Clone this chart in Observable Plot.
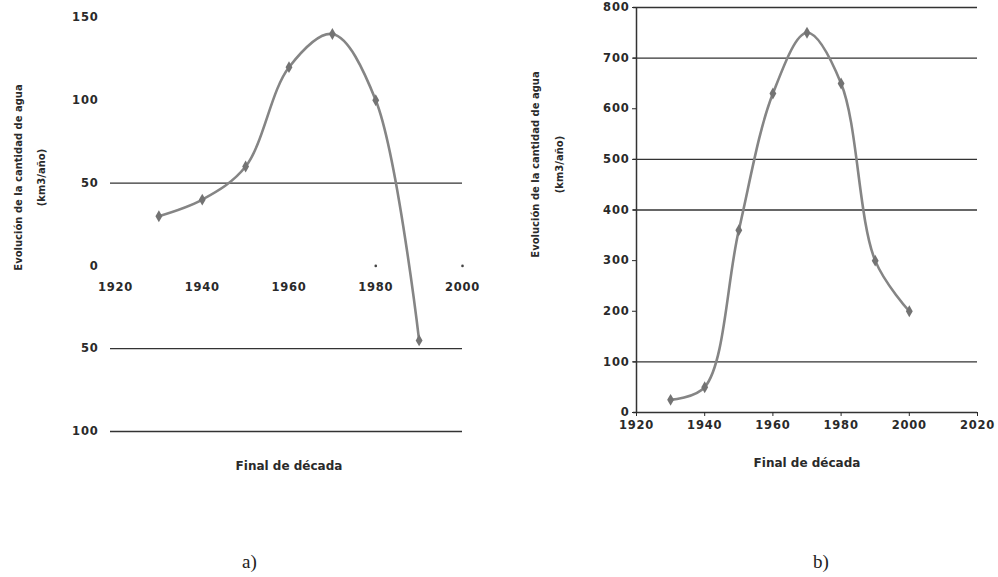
<!DOCTYPE html>
<html>
<head>
<meta charset="utf-8">
<script src="https://cdn.jsdelivr.net/npm/d3@7"></script>
<script src="https://cdn.jsdelivr.net/npm/@observablehq/plot@0.6"></script>
<style>
  html, body { margin: 0; padding: 0; background: #ffffff; }
  #wrap { position: relative; width: 998px; height: 577px; overflow: hidden; background: #ffffff; }
  #chartA { position: absolute; left: 0; top: 0; }
  #chartB { position: absolute; left: 500px; top: 0; }
  .panel { position: absolute; top: 551px; font-family: "Liberation Serif", "Times New Roman", serif; font-size: 19px; color: #222; }
  .tk text { letter-spacing: 0.8px; }
</style>
</head>
<body>
<div id="wrap">
  <div id="chartA"></div>
  <div id="chartB"></div>
  <div class="panel" style="left:242px;">a)</div>
  <div class="panel" style="left:813px;">b)</div>
</div>
<script>
// ---- Data: chart a) ----
const yearsA = [1930, 1940, 1950, 1960, 1970, 1980, 1990];
const valuesA = [30, 40, 60, 120, 140, 100, -45];
const yTicksA = [-100, -50, 0, 50, 100, 150];
const gridA = [-100, -50, 50];
const xTicksA = [1920, 1940, 1960, 1980, 2000];
const tickDotsA = [1980, 2000];

// ---- Data: chart b) ----
const yearsB = [1930, 1940, 1950, 1960, 1970, 1980, 1990, 2000];
const valuesB = [25, 50, 360, 630, 750, 650, 300, 200];
const yTicksB = [0, 100, 200, 300, 400, 500, 600, 700, 800];
const gridB = [100, 400, 500, 700, 800];
const xTicksB = [1920, 1940, 1960, 1980, 2000, 2020];

const yTitle = "Evolución de la cantidad de agua\n(km3/año)";
const xTitle = "Final de década";

const dataA = yearsA.map((y, i) => ({year: y, value: valuesA[i]}));
const dataB = yearsB.map((y, i) => ({year: y, value: valuesB[i]}));

const font = "'DejaVu Sans', Verdana, sans-serif";
const lineColor = "#858585";
const dotColor = "#737373";
const textColor = "#2a2a2a";

const chartA = Plot.plot({
  width: 480, height: 480,
  marginLeft: 115, marginRight: 18, marginTop: 17, marginBottom: 49,
  style: {fontFamily: font, background: "transparent", color: textColor},
  x: {domain: [1920, 2000], axis: null},
  y: {domain: [-100, 150]},
  marks: [
    Plot.ruleY(gridA, {stroke: "#333", strokeWidth: 1.3, insetLeft: -5}),
    Plot.axisY({ticks: yTicksA, tickSize: 0, tickPadding: 17, tickFormat: d => String(Math.abs(d)), fontSize: 11.5, fontWeight: "bold", label: null, className: "tk"}),
    Plot.text(xTicksA, {x: d => d, y: () => 0, dy: 21, text: d => String(d), fontSize: 11.5, fontWeight: "bold", fill: textColor, className: "tk"}),
    Plot.dot(tickDotsA, {x: d => d, y: () => 0, r: 1.3, fill: "#444", stroke: null}),
    Plot.line(dataA, {x: "year", y: "value", curve: "catmull-rom", stroke: lineColor, strokeWidth: 2.6}),
    Plot.dot(dataA, {x: "year", y: "value", symbol: "diamond", r: 3.6, fill: dotColor, stroke: null}),
    Plot.text([yTitle], {frameAnchor: "top-left", dx: -89, dy: 160, rotate: -90, textAnchor: "middle", lineAnchor: "middle", lineHeight: 2.3, fontSize: 10, fontWeight: "bold", fill: textColor, text: d => d}),
    Plot.text([xTitle], {frameAnchor: "bottom", dy: 35, textAnchor: "middle", lineAnchor: "middle", fontSize: 12, fontWeight: "bold", fill: textColor, text: d => d})
  ]
});
document.getElementById("chartA").appendChild(chartA);

const chartB = Plot.plot({
  width: 498, height: 480,
  marginLeft: 136, marginRight: 21, marginTop: 7, marginBottom: 68,
  style: {fontFamily: font, background: "transparent", color: textColor},
  x: {domain: [1920, 2020]},
  y: {domain: [0, 800]},
  marks: [
    Plot.ruleY(gridB, {stroke: "#333", strokeWidth: 1.3, insetLeft: -3}),
    Plot.ruleX([1920], {stroke: "#333", strokeWidth: 1.5, insetLeft: -3}),
    Plot.ruleY([0], {stroke: "#333", strokeWidth: 1.5, insetLeft: -3}),
    Plot.axisY({ticks: yTicksB, tickSize: 4, tickPadding: 3, fontSize: 11.5, fontWeight: "bold", label: null, className: "tk"}),
    Plot.axisX({ticks: xTicksB, tickSize: 4, tickPadding: 4, tickFormat: d => String(d), fontSize: 11.5, fontWeight: "bold", label: null, className: "tk"}),
    Plot.line(dataB, {x: "year", y: "value", curve: "catmull-rom", stroke: lineColor, strokeWidth: 2.6}),
    Plot.dot(dataB, {x: "year", y: "value", symbol: "diamond", r: 3.6, fill: dotColor, stroke: null}),
    Plot.text([yTitle], {frameAnchor: "top-left", dx: -93, dy: 157, rotate: -90, textAnchor: "middle", lineAnchor: "middle", lineHeight: 2.4, fontSize: 10, fontWeight: "bold", fill: textColor, text: d => d}),
    Plot.text([xTitle], {frameAnchor: "bottom", dy: 51, textAnchor: "middle", lineAnchor: "middle", fontSize: 12, fontWeight: "bold", fill: textColor, text: d => d})
  ]
});
document.getElementById("chartB").appendChild(chartB);
</script>
</body>
</html>
